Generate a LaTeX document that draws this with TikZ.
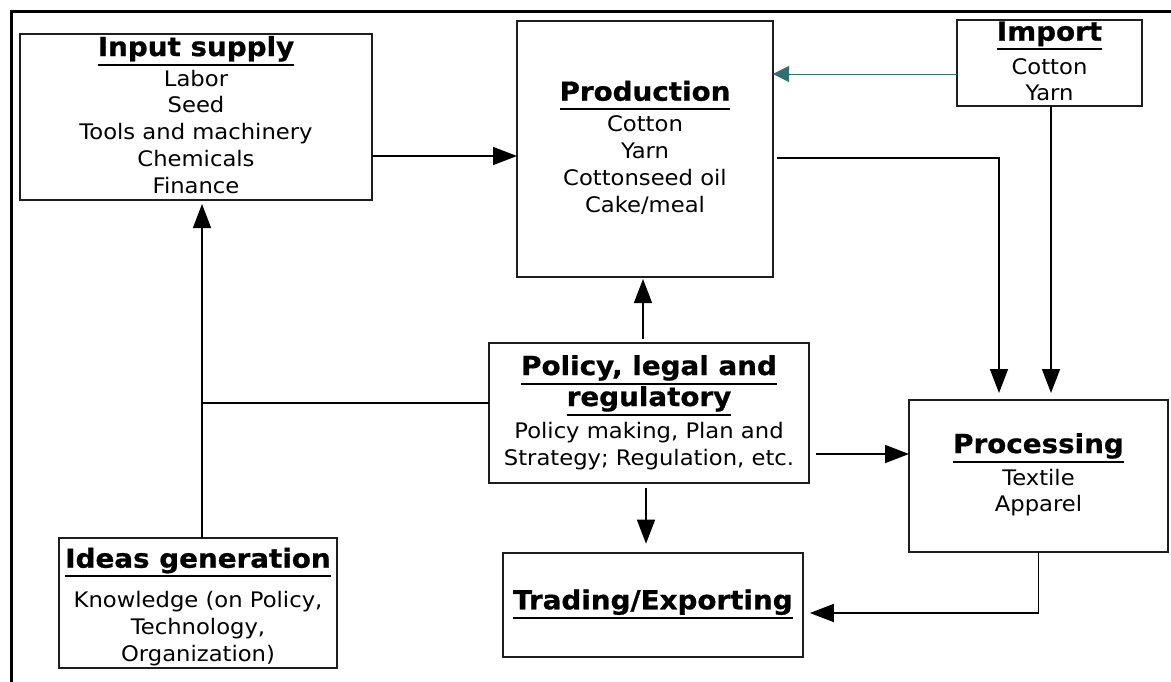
\documentclass[tikz,border=0pt]{standalone}
\usepackage{fontspec}
\setmainfont[FakeStretch=1.06, BoldFeatures={FakeBold=0.8}]{DejaVu Sans}
\usetikzlibrary{arrows.meta}
\definecolor{tealline}{RGB}{52,110,110}
\definecolor{boxline}{RGB}{30,30,30}
% bold heading with a rule a little below the baseline
\newcommand\headline[1]{\setbox0=\hbox{#1}\rlap{\vrule width\wd0 height -0.29em depth 0.37em}\box0}
% strut fixing the height of the first body line
\newcommand\fs{\rule{0pt}{18pt}}
\tikzset{
  box/.style={draw=boxline, line width=1.8pt, rectangle, inner sep=0pt, outer sep=0pt},
  head/.style={font=\fontsize{26.2}{31}\selectfont\bfseries, inner sep=0pt, anchor=base},
  body/.style={font=\fontsize{21.4}{26.7}\selectfont, inner sep=0pt, anchor=north, align=center},
  link/.style={line width=1.5pt},
  arr/.style={link, -{Triangle[length=24pt,width=18pt]}},
  tealarr/.style={line width=1pt, draw=tealline, -{Triangle[length=16pt,width=16pt]}},
}
\begin{document}
\begin{tikzpicture}[x=1pt,y=-1pt]
\useasboundingbox (0,0) rectangle (1171,681);
% outer frame
\draw[line width=2.5pt] (11.5,690) -- (11.5,11.5) -- (1180,11.5);

% boxes
\node[box, minimum width=352pt, minimum height=166pt] (inp) at (196,117) {};
\node[box, minimum width=256pt, minimum height=256pt] (prod) at (645,149) {};
\node[box, minimum width=185pt, minimum height=86pt] (imp) at (1049.5,63) {};
\node[box, minimum width=320pt, minimum height=140pt] (pol) at (649,413) {};
\node[box, minimum width=278pt, minimum height=130pt] (ideas) at (198,603) {};
\node[box, minimum width=259pt, minimum height=152pt] (proc) at (1038.5,476) {};
\node[box, minimum width=300pt, minimum height=104pt] (trade) at (652.85,604.7) {};

% texts
\node[head] (inpT) at (196,56) {\headline{Input supply}};
\node[body] (inpB) at (196,68) {\fs Labor\\Seed\\Tools and machinery\\Chemicals\\Finance};

\node[head] (prodT) at (645,100.7) {\headline{Production}};
\node[body] (prodB) at (645,113.7) {\fs Cotton\\Yarn\\Cottonseed oil\\Cake/meal};

\node[head] (impT) at (1049.5,40.7) {\headline{Import}};
\node[body] (impB) at (1049.5,56) {\fs Cotton\\Yarn};

\node[head] (polT1) at (649,375) {\headline{Policy, legal and}};
\node[head] (polT2) at (649,406) {\headline{regulatory}};
\node[body] (polB) at (649,420.3) {\fs Policy making, Plan and\\Strategy; Regulation, etc.};

\node[head] (ideasT) at (198,567.7) {\headline{Ideas generation}};
\node[body] (ideasB) at (198,589.7) {\fs Knowledge (on Policy,\\Technology,\\Organization)};

\node[head] (procT) at (1038.5,453) {\headline{Processing}};
\node[body] (procB) at (1038.5,467) {\fs Textile\\Apparel};

\node[head] (tradeT) at (652.85,609.3) {\headline{Trading/Exporting}};

% connectors
\coordinate (a) at ([yshift=-39pt]inp.east);
\draw[arr] (a) -- (a -| prod.west);

\coordinate (b) at ([yshift=-11pt]imp.west);
\draw[tealarr] (b) -- (b -| prod.east);

\coordinate (c1) at ([xshift=4pt,yshift=-9pt]prod.east);
\coordinate (c2) at ([xshift=-39.5pt]proc.north);
\draw[arr, shorten >=7pt] (c1) -| (c2);

\coordinate (d) at ([xshift=1.5pt]imp.south);
\draw[arr, shorten >=7pt] (d) -- (d |- proc.north);

\coordinate (e) at ([xshift=-6pt]pol.north);
\draw[arr, shorten <=4pt, shorten >=2pt] (e) -- (e |- prod.south);

\coordinate (f) at ([yshift=10pt]pol.west);
\coordinate (g) at ([xshift=6pt]inp.south);
\coordinate (j) at (g |- f);
\draw[link] (f) -- (j);
\draw[arr, shorten >=4pt] (g |- ideas.north) -- (g);

\coordinate (h) at ([yshift=-41pt]pol.east);
\draw[arr, shorten <=7pt] (h) -- (h -| proc.west);

\coordinate (k) at ([xshift=-3pt]pol.south);
\draw[arr, shorten <=5pt, shorten >=9pt] (k) -- (k |- trade.north);

\coordinate (m) at ([yshift=-8.3pt]trade.east);
\draw[arr, shorten >=7pt] (proc.south) |- (m);
\end{tikzpicture}
\end{document}
